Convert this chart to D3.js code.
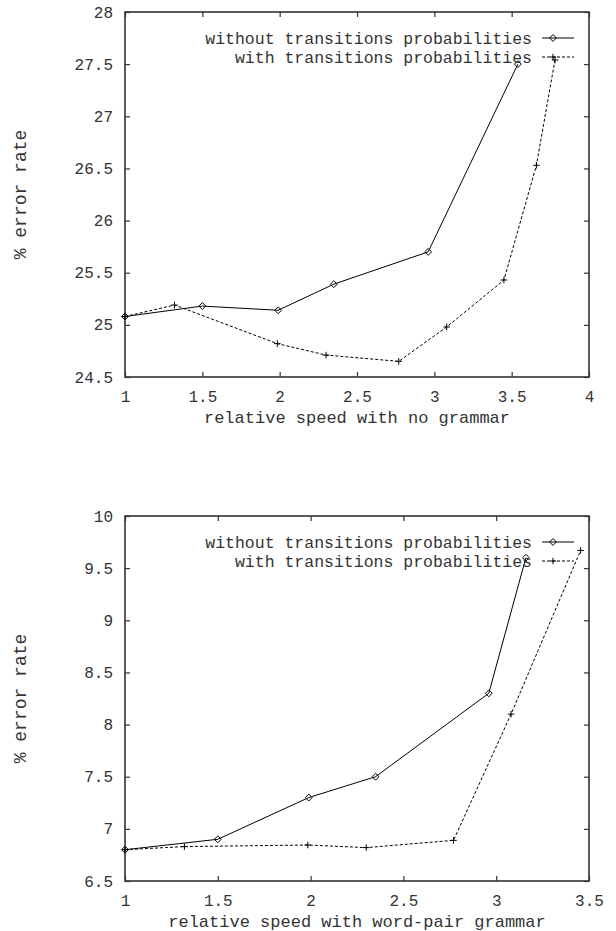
<!DOCTYPE html>
<html>
<head>
<meta charset="utf-8">
<script src="https://cdn.jsdelivr.net/npm/d3@7"></script>
<style>
  body { margin: 0; background: #fff; }
  text { font-family: "Liberation Mono", "DejaVu Sans Mono", monospace; fill: #333; }
</style>
</head>
<body>
<svg id="chart" width="616" height="931"></svg>
<script>
// legend labels
const seriesNames = ["without transitions probabilities", "with transitions probabilities"];

// top panel: no grammar
const topWithoutX = [1, 1.5, 1.99, 2.35, 2.96, 3.54];
const topWithoutY = [25.08, 25.18, 25.14, 25.39, 25.70, 27.50];
const topWithX = [1, 1.32, 1.985, 2.30, 2.77, 3.08, 3.45, 3.66, 3.78];
const topWithY = [25.08, 25.19, 24.82, 24.71, 24.65, 24.98, 25.43, 26.53, 27.54];
const topXTicks = [1, 1.5, 2, 2.5, 3, 3.5, 4];
const topYTicks = [24.5, 25, 25.5, 26, 26.5, 27, 27.5, 28];

// bottom panel: word-pair grammar
const botWithoutX = [1, 1.5, 1.99, 2.35, 2.96, 3.16];
const botWithoutY = [6.80, 6.90, 7.30, 7.50, 8.30, 9.60];
const botWithX = [1, 1.32, 1.985, 2.30, 2.77, 3.08, 3.455];
const botWithY = [6.80, 6.83, 6.845, 6.82, 6.89, 8.10, 9.67];
const botXTicks = [1, 1.5, 2, 2.5, 3, 3.5];
const botYTicks = [6.5, 7, 7.5, 8, 8.5, 9, 9.5, 10];

const svg = d3.select("#chart");

function zip(xs, ys) { return xs.map((x, i) => ({x: x, y: ys[i]})); }

function panel(top, bottom, xTicks, yTicks, s1, s2, xLabel) {
  const left = 125, right = 589;
  const x = d3.scaleLinear().domain(d3.extent(xTicks)).range([left, right]);
  const y = d3.scaleLinear().domain(d3.extent(yTicks)).range([bottom, top]);
  const g = svg.append("g");
  const fmt = d => String(d);

  // ticks on all four sides, pointing inward (gnuplot style)
  g.append("g").attr("transform", "translate(0," + bottom + ")")
    .call(d3.axisBottom(x).tickValues(xTicks).tickFormat(fmt).tickSizeInner(-5).tickSizeOuter(0).tickPadding(14));
  g.append("g").attr("transform", "translate(0," + top + ")")
    .call(d3.axisTop(x).tickValues(xTicks).tickFormat("").tickSizeInner(-5).tickSizeOuter(0));
  g.append("g").attr("transform", "translate(" + left + ",0)")
    .call(d3.axisLeft(y).tickValues(yTicks).tickFormat(fmt).tickSizeInner(-5).tickSizeOuter(0).tickPadding(12));
  g.append("g").attr("transform", "translate(" + right + ",0)")
    .call(d3.axisRight(y).tickValues(yTicks).tickFormat("").tickSizeInner(-5).tickSizeOuter(0));
  g.selectAll(".domain").remove();
  g.selectAll(".tick line").attr("stroke", "#333").attr("stroke-width", 1.2);
  g.selectAll(".tick text").attr("font-size", 16).attr("fill", "#333")
    .style("font-family", "'Liberation Mono', 'DejaVu Sans Mono', monospace");

  g.append("rect").attr("x", left).attr("y", top)
    .attr("width", right - left).attr("height", bottom - top)
    .attr("fill", "none").attr("stroke", "#333").attr("stroke-width", 1.6);

  const line = d3.line().x(d => x(d.x)).y(d => y(d.y));
  const diamond = d3.symbol().type(d3.symbolDiamond2).size(30);
  const plus = d3.symbol().type(d3.symbolPlus).size(16);

  function series(data, dash, sym) {
    g.append("path").datum(data).attr("d", line)
      .attr("fill", "none").attr("stroke", "#000").attr("stroke-width", 1)
      .attr("stroke-dasharray", dash);
    g.selectAll(null).data(data).enter().append("path")
      .attr("transform", d => "translate(" + x(d.x) + "," + y(d.y) + ")")
      .attr("d", sym).attr("fill", "none").attr("stroke", "#000").attr("stroke-width", 1);
  }
  series(s1, null, diamond);
  series(s2, "3,2", plus);

  // legend
  const rows = [{dash: null, sym: diamond}, {dash: "3,2", sym: plus}];
  rows.forEach((r, i) => {
    const ly = top + 26 + i * 19;
    g.append("text").attr("x", 532).attr("y", ly).attr("dy", "0.35em")
      .attr("text-anchor", "end").attr("font-size", 16.5).text(seriesNames[i]);
    g.append("line").attr("x1", 542).attr("x2", 574).attr("y1", ly).attr("y2", ly)
      .attr("stroke", "#000").attr("stroke-width", 1).attr("stroke-dasharray", r.dash);
    g.append("path").attr("transform", "translate(553," + ly + ")")
      .attr("d", r.sym).attr("fill", "none").attr("stroke", "#000");
  });

  // axis titles
  g.append("text").attr("x", (left + right) / 2).attr("y", bottom + 40).attr("dy", "0.35em")
    .attr("text-anchor", "middle").attr("font-size", 17).text(xLabel);
  g.append("text").attr("transform", "translate(20," + (top + bottom) / 2 + ") rotate(-90)")
    .attr("dy", "0.35em").attr("text-anchor", "middle").attr("font-size", 18).text("% error rate");
}

panel(12, 377, topXTicks, topYTicks,
  zip(topWithoutX, topWithoutY), zip(topWithX, topWithY), "relative speed with no grammar");
panel(516, 881, botXTicks, botYTicks,
  zip(botWithoutX, botWithoutY), zip(botWithX, botWithY), "relative speed with word-pair grammar");
</script>
</body>
</html>
